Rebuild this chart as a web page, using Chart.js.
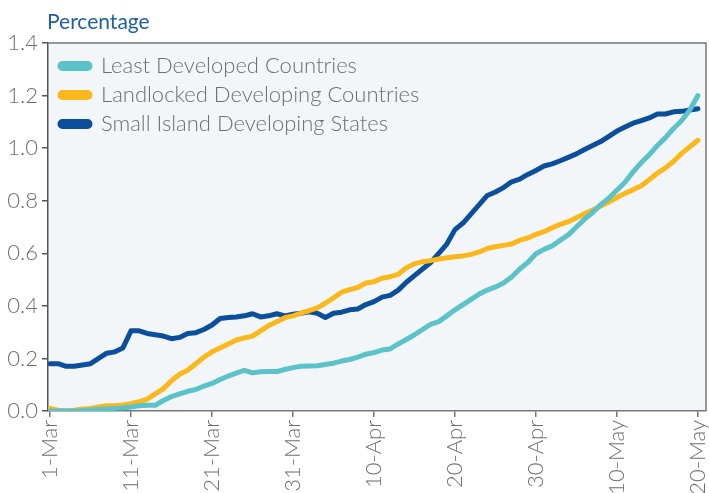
<!DOCTYPE html>
<html lang="en">

<head>
    <meta charset="UTF-8">
    <title>Percentage</title>
    <style>
        body {
            margin: 0;
            padding: 0;
            background-color: #ffffff;
        }

        #chartBox {
            width: 709px;
            height: 493px;
        }
    </style>
</head>

<body>
    <div id="chartBox"><canvas id="pctChart"></canvas></div>
    <script src="https://cdn.jsdelivr.net/npm/chart.js@4.4.1/dist/chart.umd.min.js"></script>
    <script>
        // Daily values from 1-Mar to 20-May (one per day)
        const ldc = [0.0, 0.0, 0.0, 0.0, 0.002, 0.004, 0.006, 0.008, 0.01, 0.012,
            0.015, 0.02, 0.022, 0.022, 0.04, 0.055, 0.065, 0.075, 0.082, 0.095,
            0.105, 0.12, 0.133, 0.144, 0.155, 0.145, 0.149, 0.15, 0.15, 0.158,
            0.165, 0.17, 0.171, 0.172, 0.177, 0.182, 0.19, 0.196, 0.205, 0.216,
            0.222, 0.232, 0.236, 0.255, 0.272, 0.29, 0.31, 0.33, 0.34, 0.362,
            0.385, 0.405, 0.425, 0.445, 0.46, 0.472, 0.487, 0.51, 0.54, 0.565,
            0.598, 0.615, 0.628, 0.65, 0.67, 0.7, 0.73, 0.755, 0.785, 0.81,
            0.84, 0.87, 0.91, 0.945, 0.975, 1.01, 1.04, 1.075, 1.105, 1.145, 1.2];

        const lldc = [0.01, 0.003, 0.0, 0.003, 0.008, 0.01, 0.015, 0.02, 0.02, 0.023,
            0.028, 0.035, 0.045, 0.065, 0.085, 0.115, 0.14, 0.155, 0.18, 0.205,
            0.225, 0.24, 0.255, 0.27, 0.278, 0.285, 0.305, 0.325, 0.34, 0.355,
            0.362, 0.372, 0.382, 0.392, 0.41, 0.43, 0.452, 0.462, 0.47, 0.487,
            0.492, 0.505, 0.511, 0.52, 0.545, 0.56, 0.568, 0.572, 0.578, 0.583,
            0.587, 0.59, 0.596, 0.605, 0.618, 0.625, 0.63, 0.635, 0.65, 0.658,
            0.672, 0.682, 0.697, 0.71, 0.72, 0.735, 0.75, 0.765, 0.78, 0.795,
            0.812, 0.828, 0.842, 0.857, 0.88, 0.905, 0.925, 0.95, 0.98, 1.005, 1.03];

        const sids = [0.18, 0.18, 0.17, 0.17, 0.175, 0.18, 0.2, 0.22, 0.225, 0.24,
            0.305, 0.305, 0.295, 0.29, 0.285, 0.275, 0.28, 0.295, 0.298, 0.31,
            0.327, 0.352, 0.356, 0.358, 0.362, 0.37, 0.358, 0.362, 0.37, 0.362,
            0.368, 0.372, 0.377, 0.372, 0.356, 0.372, 0.376, 0.385, 0.388, 0.405,
            0.416, 0.433, 0.44, 0.46, 0.49, 0.515, 0.54, 0.565, 0.6, 0.635,
            0.69, 0.715, 0.75, 0.785, 0.82, 0.833, 0.85, 0.872, 0.882, 0.9,
            0.915, 0.932, 0.94, 0.952, 0.965, 0.978, 0.995, 1.01, 1.025, 1.045,
            1.065, 1.08, 1.095, 1.105, 1.115, 1.13, 1.13, 1.138, 1.14, 1.145, 1.15];

        // x axis ticks: day index (0 = 1-Mar) and their labels
        const tickDays = [0, 10, 20, 30, 40, 50, 60, 70, 80];
        const tickLabels = ['1-Mar', '11-Mar', '21-Mar', '31-Mar', '10-Apr', '20-Apr', '30-Apr', '10-May', '20-May'];

        const seriesNames = ['Least Developed Countries', 'Landlocked Developing Countries', 'Small Island Developing States'];
        const seriesColors = ['#5bc2c9', '#fbb81c', '#0b4f9c'];

        const fontFamily = "Lato, 'Open Sans', Arial, sans-serif";
        const gray = '#6e6e6e';

        // Plot background, frame and the "Percentage" heading
        const framePlugin = {
            id: 'frame',
            beforeDraw(chart) {
                const { ctx, chartArea: a } = chart;
                ctx.save();
                ctx.fillStyle = '#f2f6f8';
                ctx.fillRect(a.left, a.top, a.right - a.left, a.bottom - a.top);
                ctx.restore();
                // move the legend to the top left corner of the plot
                chart.legend.left = a.left + 5;
                chart.legend.top = a.top + 5;
            },
            afterDraw(chart) {
                const { ctx, chartArea: a } = chart;
                ctx.save();
                ctx.strokeStyle = '#777777';
                ctx.lineWidth = 1.5;
                ctx.beginPath();
                ctx.moveTo(a.left, a.top);
                ctx.lineTo(a.right, a.top);
                ctx.lineTo(a.right, a.bottom);
                ctx.stroke();
                ctx.fillStyle = '#1f5fa8';
                ctx.font = '21px ' + fontFamily;
                ctx.textBaseline = 'alphabetic';
                ctx.fillText('Percentage', 47, 29);
                ctx.restore();
            }
        };

        const labels = ldc.map((v, i) => i);
        const datasets = [ldc, lldc, sids].map((values, i) => ({
            label: seriesNames[i],
            data: values,
            borderColor: seriesColors[i],
            backgroundColor: seriesColors[i],
            borderWidth: 5,
            pointRadius: 0,
            tension: 0,
            borderJoinStyle: 'round',
            borderCapStyle: 'round'
        }));

        const ctx = document.getElementById('pctChart').getContext('2d');
        new Chart(ctx, {
            type: 'line',
            data: { labels: labels, datasets: datasets },
            plugins: [framePlugin],
            options: {
                responsive: true,
                maintainAspectRatio: false,
                animation: false,
                layout: { padding: { top: 43, right: 3, left: 0, bottom: 0 } },
                plugins: {
                    tooltip: { enabled: false },
                    legend: {
                        position: 'chartArea',
                        align: 'start',
                        labels: {
                            color: gray,
                            font: { family: fontFamily, size: 22, weight: 300 },
                            boxWidth: 30,
                            boxHeight: 5,
                            padding: 7,
                            useBorderRadius: true,
                            borderRadius: 2.5
                        }
                    }
                },
                scales: {
                    x: {
                        type: 'linear',
                        min: -0.25,
                        max: 81,
                        afterBuildTicks: (scale) => {
                            scale.ticks = tickDays.map(d => ({ value: d }));
                        },
                        afterFit: (scale) => {
                            scale.height = 82;
                            // the last label may hang over the plot edge
                            scale.paddingLeft = 0;
                            scale.paddingRight = 0;
                        },
                        ticks: {
                            minRotation: 90,
                            maxRotation: 90,
                            padding: 3,
                            color: gray,
                            font: { family: fontFamily, size: 22, weight: 300 },
                            callback: (value) => tickLabels[tickDays.indexOf(value)]
                        },
                        grid: { drawOnChartArea: false, drawTicks: true, tickLength: 6, color: '#777777', lineWidth: 1.5 },
                        border: { display: true, color: '#777777', width: 1.5 }
                    },
                    y: {
                        min: 0,
                        max: 1.4,
                        afterFit: (scale) => { scale.width = 48; },
                        ticks: {
                            stepSize: 0.2,
                            padding: 4,
                            color: gray,
                            font: { family: fontFamily, size: 22, weight: 300 },
                            callback: (value) => value.toFixed(1)
                        },
                        grid: { drawOnChartArea: false, drawTicks: true, tickLength: 6, color: '#555555', lineWidth: 1.5 },
                        border: { display: true, color: '#555555', width: 1.5 }
                    }
                }
            }
        });
    </script>
</body>

</html>
